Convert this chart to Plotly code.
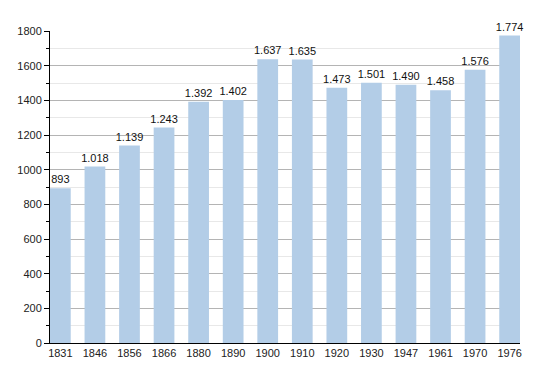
import plotly.graph_objects as go

years = ["1831", "1846", "1856", "1866", "1880", "1890", "1900", "1910", "1920", "1930", "1947", "1961", "1970", "1976"]
population = [893, 1018, 1139, 1243, 1392, 1402, 1637, 1635, 1473, 1501, 1490, 1458, 1576, 1774]
labels = [f"{v:,}".replace(",", ".") for v in population]

fig = go.Figure()
fig.add_trace(go.Bar(
    x=list(range(len(years))), y=population, width=0.6,
    marker=dict(color="#b3cde7", line=dict(width=0)),
    text=labels, textposition="outside", cliponaxis=False,
    constraintext="none",
    textfont=dict(family="Liberation Sans, Arial", size=11, color="#111"),
))
fig.update_layout(
    width=534, height=357,
    margin=dict(l=42, r=22, t=23, b=22, autoexpand=False),
    paper_bgcolor="white", plot_bgcolor="white",
    showlegend=False,
    font=dict(family="Liberation Sans, Arial", size=11, color="#222"),
)
fig.update_xaxes(
    tickmode="array", tickvals=list(range(len(years))), ticktext=years,
    range=[-0.3, len(years) - 0.7], showgrid=False, automargin=False,
    showline=True, linecolor="black", linewidth=1, ticks="", zeroline=False,
)
fig.update_yaxes(
    range=[0, 1800], dtick=200, showgrid=True, gridcolor="#b4b4b4", gridwidth=1,
    showline=True, linecolor="black", linewidth=1, ticks="outside", ticklen=5,
    tickcolor="black", zeroline=False, automargin=False,
    minor=dict(dtick=100, showgrid=True, gridcolor="#e8e8e8", ticks="outside", ticklen=3, tickcolor="black"),
)
fig.write_html("out.html")
